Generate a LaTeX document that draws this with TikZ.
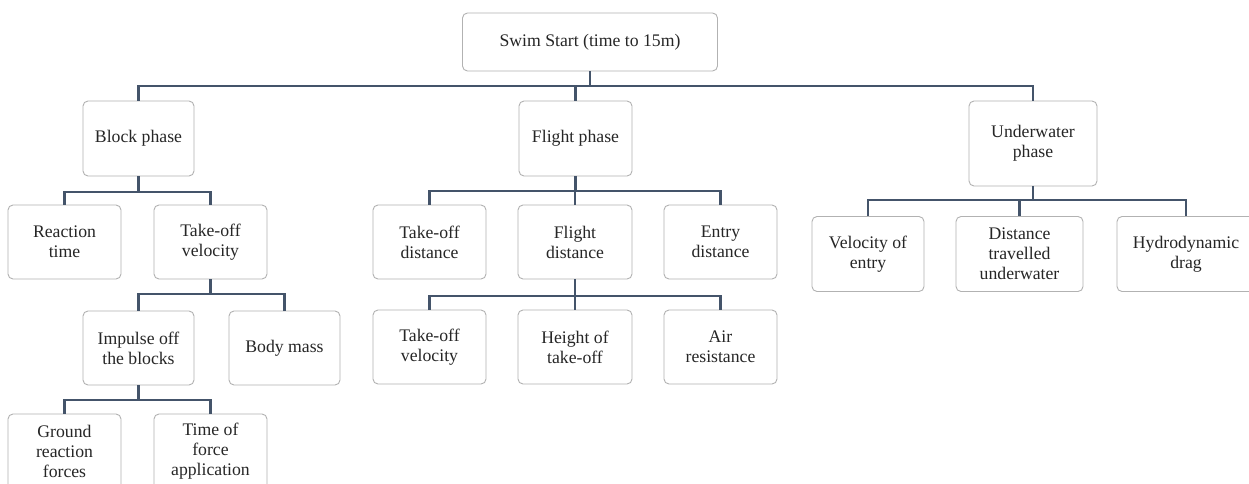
\documentclass[tikz,border=0pt]{standalone}
\usepackage{fontspec}
\setmainfont{Liberation Serif}
\usetikzlibrary{positioning}

\definecolor{linkblue}{RGB}{68,84,106}
\tikzset{
	box/.style={draw=black!30, line width=0.9pt, rounded corners=5pt, fill=white, align=center,
		text=black!85, font=\fontsize{17.7}{20}\selectfont, inner sep=2pt},
	link/.style={draw=linkblue, line width=2.4pt}
}

\begin{document}
\begin{tikzpicture}[x=1pt, y=-1pt]
				\clip (0,0) rectangle (1249,484);
				\fill[white] (0,0) rectangle (1249,484);

				\coordinate (bar0) at (0,86);
				\coordinate (barblk) at (0,192);
				\coordinate (barflt) at (0,191);
				\coordinate (baruw) at (0,200);
				\coordinate (bartov) at (0,294);
				\coordinate (barfd) at (0,296);
				\coordinate (barimp) at (0,400);

				\node[box, minimum width=255pt, minimum height=58pt] (root) at (590,42) {Swim Start (time to 15m)};

				\node[box, minimum width=111pt, minimum height=75pt] (blk) at (138.5,138.5) {Block phase};
				\node[box, minimum width=113pt, minimum height=75pt] (flt) at (575.5,138.5) {Flight phase};
				\node[box, minimum width=128pt, minimum height=85pt] (uw) at (1033,143.5) {Underwater\\phase};

				\node[box, minimum width=113pt, minimum height=74pt] (rt) at (64.5,242) {Reaction\\time};
				\node[box, minimum width=113pt, minimum height=74pt] (tov) at (210.5,242) {Take-off\\velocity};
				\node[box, minimum width=111pt, minimum height=74pt] (imp) at (138.5,348) {Impulse off\\the blocks};
				\node[box, minimum width=111pt, minimum height=74pt] (bm) at (284.5,348) {Body mass};
				\node[box, minimum width=113pt, minimum height=75pt] (grf) at (64.5,451.5) {Ground\\reaction\\forces};
				\node[box, minimum width=113pt, minimum height=75pt] (tfa) at (210.5,451.5) {Time of\\force\\application};

				\node[box, minimum width=113pt, minimum height=74pt] (tod) at (429.5,242) {Take-off\\distance};
				\node[box, minimum width=114pt, minimum height=74pt] (fd) at (575,242) {Flight\\distance};
				\node[box, minimum width=113pt, minimum height=74pt] (ed) at (720.5,242) {Entry\\distance};
				\node[box, minimum width=113pt, minimum height=74pt] (tov2) at (429.5,347) {Take-off\\velocity};
				\node[box, minimum width=114pt, minimum height=74pt] (hot) at (575,347) {Height of\\take-off};
				\node[box, minimum width=113pt, minimum height=74pt] (ar) at (720.5,347) {Air\\resistance};

				\node[box, minimum width=112pt, minimum height=75pt] (ve) at (868,254) {Velocity of\\entry};
				\node[box, minimum width=127pt, minimum height=75pt] (dtu) at (1019.5,254) {Distance\\travelled\\underwater};
				\node[box, minimum width=138pt, minimum height=75pt] (hd) at (1186,254) {Hydrodynamic\\drag};

				\foreach \c in {blk,flt,uw}
					\draw[link] (root.south) -- (root.south |- bar0) -| (\c.north);
				\foreach \c in {rt,tov}
					\draw[link] (blk.south) -- (blk.south |- barblk) -| (\c.north);
				\foreach \c in {imp,bm}
					\draw[link] (tov.south) -- (tov.south |- bartov) -| (\c.north);
				\foreach \c in {grf,tfa}
					\draw[link] (imp.south) -- (imp.south |- barimp) -| (\c.north);
				\foreach \c in {tod,fd,ed}
					\draw[link] (flt.south) -- (flt.south |- barflt) -| (\c.north);
				\foreach \c in {tov2,hot,ar}
					\draw[link] (fd.south) -- (fd.south |- barfd) -| (\c.north);
				\foreach \c in {ve,dtu,hd}
					\draw[link] (uw.south) -- (uw.south |- baruw) -| (\c.north);
			\end{tikzpicture}
\end{document}
